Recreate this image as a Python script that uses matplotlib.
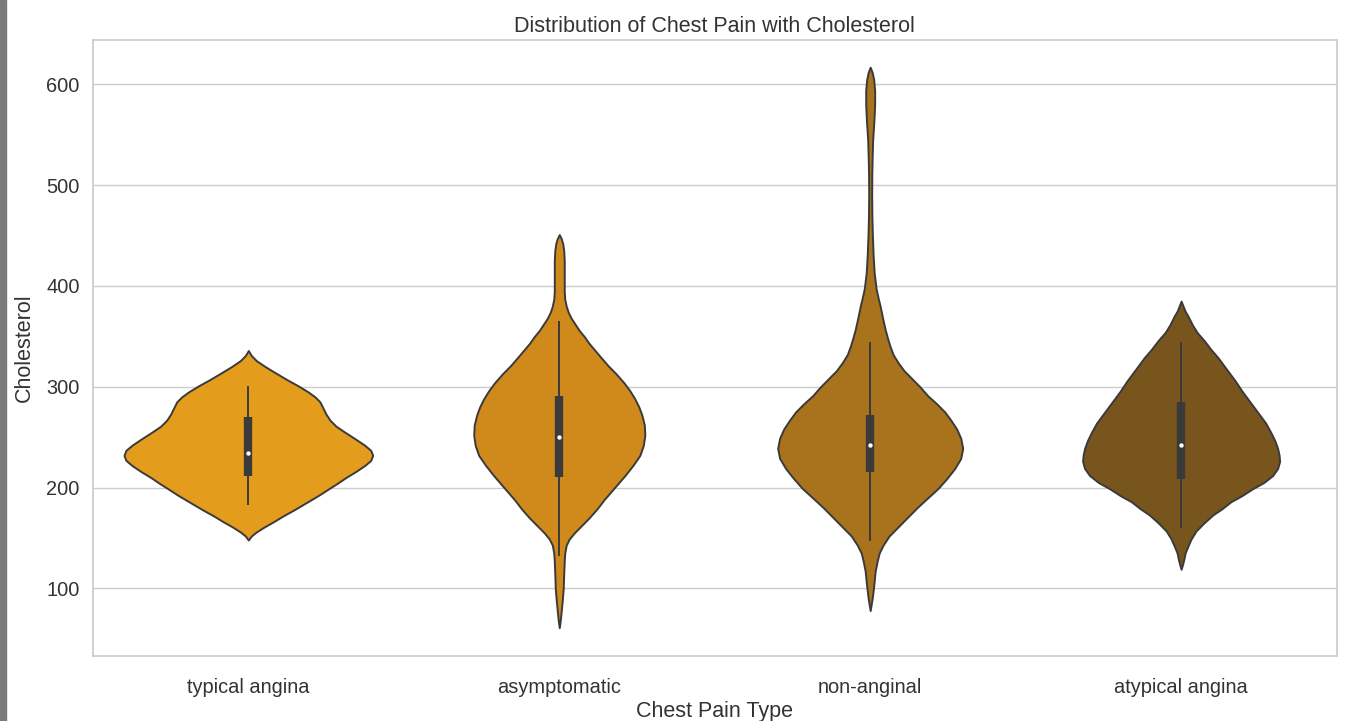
import matplotlib
matplotlib.use("Agg")
import matplotlib.pyplot as plt
from matplotlib.patches import Rectangle
import seaborn as sns

chest_pain = ["typical angina", "asymptomatic", "non-anginal", "atypical angina"]
fill_colors = ["#E39C1C", "#D08A1B", "#A8731C", "#77551C"]
line_color = "#3a3a3a"

# kde outlines: cholesterol level and estimated density (relative units)
typical_chol = [336, 331, 326, 320, 314, 307, 301, 295, 290, 285, 279, 273, 267, 261, 255, 248,
                242, 237, 232, 227, 222, 216, 210, 204, 199, 192, 185, 178, 172, 166, 161, 156,
                152, 148]
typical_dens = [0, 3, 8, 17, 27, 39, 50, 60, 67, 72, 75, 78, 82, 88, 97, 108,
                117, 123, 125, 123, 117, 108, 98, 89, 81, 70, 58, 46, 35, 25, 16, 8,
                3, 0]

asympt_chol = [451, 447, 442, 435, 425, 415, 405, 395, 387, 380, 374, 368, 362, 356, 350, 343,
               336, 329, 321, 313, 304, 296, 288, 280, 272, 262, 252, 242, 232, 222, 212, 204,
               196, 188, 179, 170, 162, 155, 149, 143, 135, 127, 115, 100, 88, 78, 68, 61]
asympt_dens = [0, 2, 3.5, 4.5, 5, 5, 5, 5, 5.5, 7, 9, 12, 16, 20, 25, 30,
               36, 42, 49, 57, 65, 71, 76, 80, 83, 85.5, 86, 84.5, 81, 74, 66, 59,
               52, 45, 38, 30, 22, 15, 10, 7, 5.5, 5, 4.5, 4, 3, 2, 1, 0]

nonang_chol = [617, 612, 605, 594, 580, 565, 545, 528, 510, 490, 470, 450, 430, 413, 397, 388,
               380, 368, 357, 348, 340, 332, 324, 316, 308, 300, 291, 283, 275, 267, 258, 249,
               239, 229, 219, 209, 199, 190, 180, 170, 160, 152, 143, 135, 127, 117, 107, 98,
               90, 84, 78]
nonang_dens = [0, 2, 3.5, 4.5, 4.5, 3.8, 2.5, 2, 1.6, 1.5, 1.7, 2.2, 3, 4, 6, 8,
               10, 12.5, 15, 17.5, 20, 23, 28, 34, 42, 50, 58, 67, 75, 81, 87, 91,
               93, 91, 85, 77, 68, 58, 47, 37, 27, 19, 13, 9, 7, 5, 4, 3,
               2, 1, 0]

atyp_chol = [385, 380, 375, 370, 362, 354, 346, 337, 329, 321, 313, 305, 296, 288, 280, 272,
             264, 255, 247, 239, 232, 226, 219, 212, 205, 199, 192, 186, 179, 173, 165, 157,
             149, 140, 135, 130, 124, 119]
atyp_dens = [0, 2, 4, 7, 11, 16, 23, 30, 37, 43, 49, 55, 61, 67, 73, 79,
             85, 90, 94, 97, 98.5, 99, 97, 92, 83, 72, 61, 50, 41, 32, 23, 15,
             10, 6, 4, 3, 1.5, 0]

# inner box: lower whisker, q1, median, q3, upper whisker
typical_box = [183, 212, 234, 270, 301]
asympt_box = [132, 211, 250, 291, 365]
nonang_box = [147, 215, 242, 272, 344]
atyp_box = [160, 209, 242, 285, 344]

outlines = [(typical_chol, typical_dens), (asympt_chol, asympt_dens),
            (nonang_chol, nonang_dens), (atyp_chol, atyp_dens)]
boxes = [typical_box, asympt_box, nonang_box, atyp_box]

sns.set_theme(style="whitegrid")
plt.rcParams['font.family'] = ['Liberation Sans', 'DejaVu Sans']

fig, ax = plt.subplots(figsize=(13.46, 7.21), dpi=100)
fig.subplots_adjust(left=0.069, right=0.993, top=0.9445, bottom=0.0902)

# area scaling: the violin with the highest peak gets the full 0.8 width
peak = max(max(d) for _, d in outlines)
stats = []
widths = []
for (chol, dens), box in zip(outlines, boxes):
    stats.append({"coords": chol, "vals": dens, "mean": box[2], "median": box[2],
                  "min": min(chol), "max": max(chol)})
    widths.append(0.8 * max(dens) / peak)

positions = list(range(len(chest_pain)))
parts = ax.violin(stats, positions=positions, widths=widths,
                  showmeans=False, showextrema=False, showmedians=False)
for body, color in zip(parts["bodies"], fill_colors):
    body.set_facecolor(color)
    body.set_edgecolor(line_color)
    body.set_linewidth(1.4)
    body.set_alpha(1)
    body.set_zorder(2)

for pos, box in zip(positions, boxes):
    lo, q1, med, q3, hi = box
    ax.vlines(pos, lo, hi, color=line_color, linewidth=1.4, zorder=3)
    ax.vlines(pos, q1, q3, color=line_color, linewidth=6, zorder=3)
    ax.scatter([pos], [med], s=10, color="white", zorder=4, linewidths=0)

ax.set_xticks(positions)
ax.set_xticklabels(chest_pain)
ax.set_xlim(-0.5, 3.5)
ax.set_ylim(33, 644)
ax.set_yticks([100, 200, 300, 400, 500, 600])
ax.grid(axis="x", visible=False)
ax.tick_params(labelsize=14.4, colors="#333333")
ax.tick_params(axis="x", pad=10)

ax.set_title("Distribution of Chest Pain with Cholesterol", fontsize=15.5, color="#333333")
ax.set_xlabel("Chest Pain Type", fontsize=15.5, color="#333333", labelpad=3)
ax.set_ylabel("Cholesterol", fontsize=15.5, color="#333333", labelpad=8)

fig.patches.append(Rectangle((0, 0), 6 / 1346, 1, transform=fig.transFigure,
                             color="#7a7a7a", zorder=0))

fig.savefig("out.png", dpi=100)
